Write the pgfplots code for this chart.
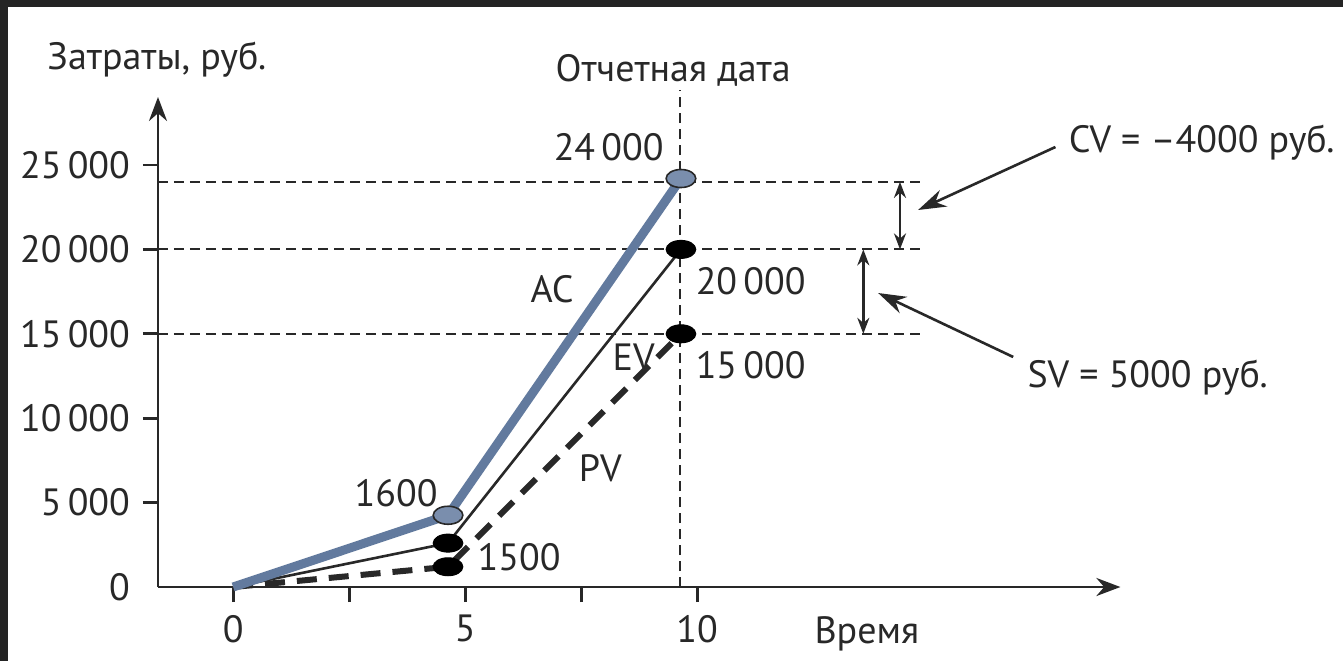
\documentclass[border=0pt]{standalone}
\usepackage{pgfplots}
\pgfplotsset{compat=1.18}
\usepackage{fontspec}
\setmainfont{PT Sans}
\usetikzlibrary{arrows.meta}
\definecolor{acblue}{RGB}{98,122,158}
\definecolor{ink}{RGB}{40,40,40}
\definecolor{framecol}{RGB}{36,36,36}

\begin{document}
\fontsize{19}{22}\selectfont
\begin{tikzpicture}
% dark frame of the screenshot, top and left
\fill[framecol] (-79pt,-37pt) rectangle (592.5pt,293.5pt);
\fill[white] (-75pt,-37pt) rectangle (592.5pt,290pt);
\path[use as bounding box] (-79pt,-37pt) rectangle (592.5pt,293.5pt);
\begin{axis}[
    at={(0,0)}, anchor=south west,
    scale only axis, width=481.2pt, height=245pt,
    xmin=-1.62, xmax=19.12, ymin=0, ymax=29028,
    axis lines=left,
    axis line style={line width=1.4pt, ink, -{Stealth[length=12pt,width=9pt]}},
    tick align=outside, major tick length=7.5pt,
    tick style={line width=1.4pt, ink},
    scaled y ticks=false,
    xtick={0,2.5,5,7.5,10}, xticklabels={0,,5,,10},
    ytick={5000,10000,15000,20000,25000},
    yticklabels={5\,000,10\,000,15\,000,20\,000,25\,000},
    extra y ticks={0}, extra y tick labels={0},
    extra y tick style={tick style={draw=none}},
    ticklabel style={font=\fontsize{19}{22}\selectfont, text=ink},
    clip=false,
]
% reference lines
\draw[ink, line width=1pt, dash pattern=on 5pt off 3pt] (axis cs:-1.62,24000) -- (axis cs:14.87,24000);
\draw[ink, line width=1pt, dash pattern=on 5pt off 3pt] (axis cs:-1.62,20000) -- (axis cs:14.87,20000);
\draw[ink, line width=1pt, dash pattern=on 5pt off 3pt] (axis cs:-1.62,15000) -- (axis cs:14.87,15000);
\draw[ink, line width=1pt, dash pattern=on 5pt off 3pt] (axis cs:9.63,0) -- (axis cs:9.63,29440);

% PV
\addplot[ink, line width=3pt, dash pattern=on 10pt off 6pt,
    mark=*, mark indices={2,3},
    mark options={solid, fill=black, draw=black, line width=0.5pt, xscale=1.65}, mark size=4.5pt]
    coordinates {(0,0)(4.63,1200)(9.65,15000)};
% EV
\addplot[ink, line width=1.3pt,
    mark=*, mark indices={2,3},
    mark options={solid, fill=black, draw=black, line width=0.5pt, xscale=1.65}, mark size=4.5pt]
    coordinates {(0,0)(4.63,2600)(9.65,20000)};
% AC
\addplot[acblue, line width=4.5pt,
    mark=*, mark indices={2,3},
    mark options={solid, fill=acblue!85!white, draw=ink, line width=0.8pt, xscale=1.65}, mark size=4.5pt]
    coordinates {(0,0)(4.63,4250)(9.65,24200)};

% variance arrows
\draw[ink, line width=1.2pt, {Stealth[length=8pt,width=6pt]}-{Stealth[length=8pt,width=6pt]}]
    (axis cs:14.37,24000) -- (axis cs:14.37,20000);
\draw[ink, line width=1.2pt, {Stealth[length=8pt,width=6pt]}-{Stealth[length=8pt,width=6pt]}]
    (axis cs:13.58,20000) -- (axis cs:13.58,15000);
\draw[ink, line width=1.3pt, -{Stealth[length=14pt,width=9pt]}]
    (axis cs:17.72,26066) -- (axis cs:14.76,22334);
\draw[ink, line width=1.3pt, -{Stealth[length=14pt,width=9pt]}]
    (axis cs:16.81,13626) -- (axis cs:13.90,17417);

% texts
\begin{scope}[every node/.style={inner sep=0pt, text=ink}]
\node[anchor=base west] at (axis cs:-4.01,30628) {Затраты, руб.};
\node[anchor=base] at (axis cs:9.48,29976) {Отчетная дата};
\node[anchor=base west] at (axis cs:18.0,25711) {CV = –4000 руб.};
\node[anchor=base west] at (axis cs:17.11,11848) {SV = 5000 руб.};
\node[anchor=base west] at (axis cs:6.90,25237) {24\,000};
\node[anchor=base west] at (axis cs:9.96,17299) {20\,000};
\node[anchor=base west] at (axis cs:9.96,12381) {15\,000};
\node[anchor=base west] at (axis cs:2.61,4799) {1600};
\node[anchor=base west] at (axis cs:5.26,1007) {1500};
\node[anchor=base west] at (axis cs:6.40,16825) {AC};
\node[anchor=base west] at (axis cs:8.17,12855) {EV};
\node[anchor=base west] at (axis cs:7.44,6280) {PV};
\node[anchor=base west] at (axis cs:12.52,-3318) {Время};
\end{scope}
\end{axis}
\end{tikzpicture}
\end{document}
